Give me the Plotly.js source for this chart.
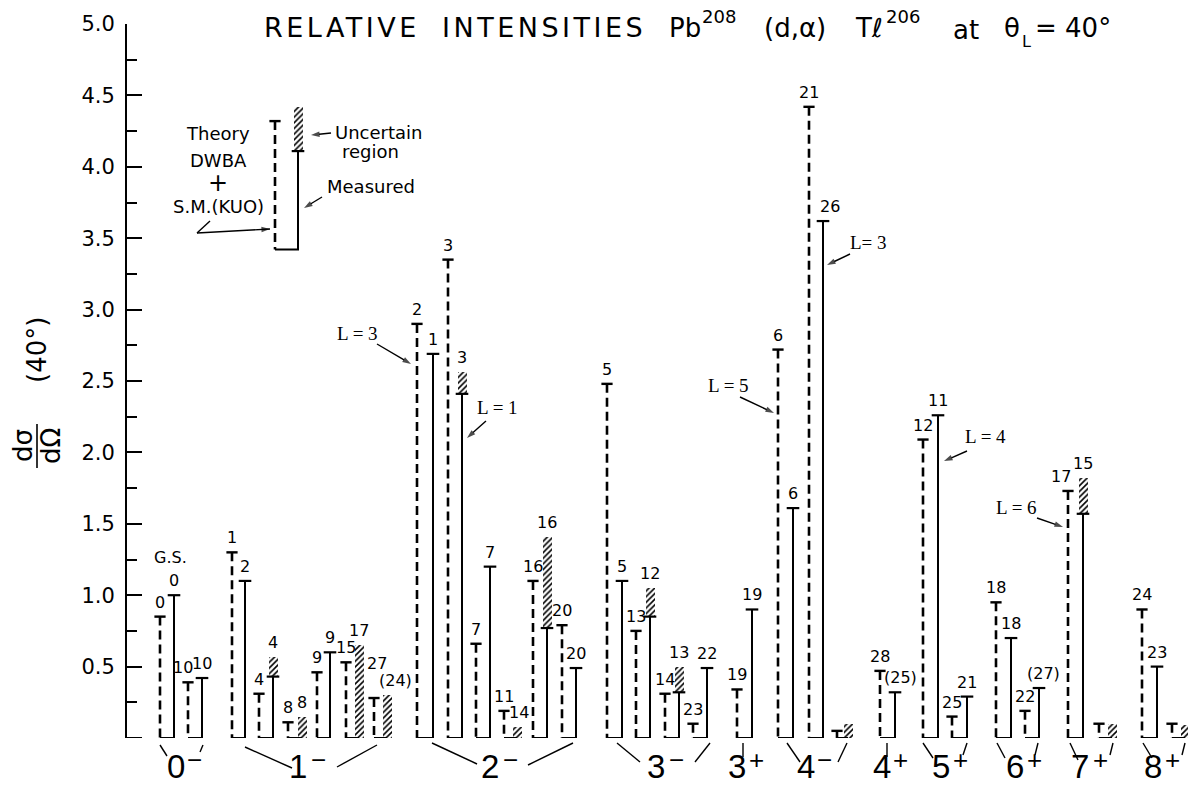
<!DOCTYPE html>
<html><head><meta charset="utf-8">
<script src="https://cdn.plot.ly/plotly-3.0.1.min.js"></script>
<style>html,body{margin:0;padding:0;background:#fff}#chart{width:1188px;height:786px}</style>
</head><body><div id="chart"></div>
<script>
// ---------------- data ----------------
const groupSpins = ['0','1','2','3','3','4','4','5','6','7','8'];
const groupParity = ['−','−','−','−','+','−','+','+','+','+','+'];
const pairGroup = [0,0, 1,1,1,1,1,1, 2,2,2,2,2,2, 3,3,3,3, 4, 5,5,5, 6, 7,7, 8,8, 9,9, 10,10];
// theory: DWBA + S.M.(Kuo)
const theoryValues = [0.85,0.39, 1.30,0.31,0.11,0.46,0.53,0.28, 2.90,3.35,0.66,0.19,1.10,0.79, 2.48,0.75,0.31,0.10, 0.34, 2.72,4.42,0.05, 0.47, 2.09,0.15, 0.95,0.19, 1.73,0.10, 0.90,0.10];
// measured (solid part)
const measuredValues = [1.00,0.42, 1.10,0.43,0.00,0.60,0.00,0.00, 2.69,2.41,1.20,0.00,0.77,0.49, 1.10,0.85,0.32,0.49, 0.90, 1.61,3.62,0.00, 0.32, 2.26,0.29, 0.70,0.35, 1.57,0.00, 0.50,0.00];
// top of uncertain (hatched) region, null = none
const uncertainTop = [null,null, null,0.57,0.15,null,0.65,0.30, null,2.56,null,0.08,1.41,null, null,1.05,0.50,null, null, null,null,0.10, null, null,null, null,null, 1.82,0.10, null,0.09];
const theoryLabels = ['0','10', '1','4','8','9','15','27', '2','3','7','11','16','20', '5','13','14','23', '19', '6','21','', '28', '12','25', '18','22', '17','', '24',''];
const measuredLabels = ['0','10', '2','4','8','9','17','(24)', '1','3','7','14','16','20', '5','12','13','22', '19', '6','26','', '(25)', '11','21', '18','(27)', '15','', '23',''];
const yTickValues = [0.5,1.0,1.5,2.0,2.5,3.0,3.5,4.0,4.5,5.0];
const yTickText = ['0.5','1.0','1.5','2.0','2.5','3.0','3.5','4.0','4.5','5.0'];
const yMinorTicks = [0.25,0.75,1.25,1.75,2.25,2.75,3.25,3.75,4.25,4.75];
// legend sample values
const legendBase = 3.42, legendTheory = 4.32, legendMeasured = 4.11, legendUncertain = 4.42;

// ---------------- layout positions (pixel-like x units) ----------------
const xTheoryPos   = [160,188, 232,259,288,317,346,374, 417,448,476,504,533,562, 607,636,665,693, 737, 778,809,837, 880, 923,952, 996,1025, 1068,1099, 1142,1172];
const xMeasuredPos = [174,202, 245,273,302,330,359,387, 433,462,490,517,547,576, 622,650,679,707, 752, 793,823,848, 895, 938,967, 1011,1039, 1083,1112, 1157,1185];
const theoryLabelDx = {1:-5, 7:3, 27:-7};
const theoryLabelDy = {7:20};
const measuredLabelDx = {7:8, 20:7, 22:5, 26:4, 11:2};
const groupDigitX = [176,298,490,656,737,806,882,941,1015,1080,1153];
const groupSignX  = [194,318,510,676,756,824,900,960,1034,1100,1172];
const groupBrackets = [
  [[160,745,167,756],[203,745,200,752]],
  [[245,747,292,768],[377,745,337,767]],
  [[432,743,477,764],[573,743,528,765]],
  [[617,743,640,762],[710,743,695,762]],
  [[743,743,743,757]],
  [[787,743,800,762],[847,743,838,762]],
  [[887,743,887,757]],
  [[923,743,933,758],[967,743,963,755]],
  [[997,743,1005,758],[1038,743,1035,755]],
  [[1070,743,1078,760],[1113,743,1110,755]],
  [[1143,743,1152,758],[1185,743,1182,755]]
];

// ---------------- helpers ----------------
const L = 127, R = 1188, T0 = 24, B0 = 738;
const PX = px => (px - L) / (R - L);
const PY = py => (B0 - py) / (B0 - T0);
const PV = py => 5 * (B0 - py) / (B0 - T0);   // pixel row -> y value
const FONT = 'DejaVu Sans, Liberation Sans, sans-serif';
const NARROW = 'Liberation Sans Narrow, Liberation Sans, sans-serif';
const blk = '#000';

function pairTraces(xT, xM, th, me, unc, base) {
  const dX=[], dY=[], sX=[], sY=[], cTx=[], cTy=[], cMx=[], cMy=[], hX=[], hB=[], hY=[];
  for (let i=0;i<th.length;i++){
    const b = base;
    dX.push(xT[i], xT[i], null); dY.push(th[i], b, null);
    sX.push(xT[i], xM[i], xM[i], null); sY.push(b, b, me[i], null);
    cTx.push(xT[i]); cTy.push(th[i]);
    if (me[i] > b + 0.001) { cMx.push(xM[i]); cMy.push(me[i]); }
    if (unc[i] !== null && unc[i] !== undefined) { hX.push(xM[i]); hB.push(Math.max(me[i], b)); hY.push(unc[i] - Math.max(me[i], b)); }
  }
  return [
    {type:'bar', x:hX, y:hY, base:hB, width:9, hoverinfo:'skip',
     marker:{color:'#fff', line:{width:0}, pattern:{shape:'/', fgcolor:blk, bgcolor:'#fff', size:4, solidity:0.4, fillmode:'replace'}}},
    {type:'scatter', mode:'lines', x:dX, y:dY, line:{color:blk, width:2.6, dash:'9px,5px'}, hoverinfo:'skip'},
    {type:'scatter', mode:'lines', x:sX, y:sY, line:{color:blk, width:2}, hoverinfo:'skip'},
    {type:'scatter', mode:'markers', x:cTx, y:cTy, marker:{symbol:'line-ew', size:8, line:{width:2.4, color:blk}}, hoverinfo:'skip', cliponaxis:false},
    {type:'scatter', mode:'markers', x:cMx, y:cMy, marker:{symbol:'line-ew', size:9, line:{width:2.2, color:blk}}, hoverinfo:'skip', cliponaxis:false}
  ];
}

const traces = pairTraces(xTheoryPos, xMeasuredPos, theoryValues, measuredValues, uncertainTop, 0)
  .concat(pairTraces([275],[298],[legendTheory],[legendMeasured],[legendUncertain], legendBase));

// pointer arrows (pixel polylines, last point = arrow tip)
const arrowPaths = [
  [[210,221],[197,233],[270,229]],
  [[331,133],[311,135]],
  [[322,197],[304,208]],
  [[377,344],[411,364]],
  [[486,421],[467,438]],
  [[740,397],[774,413]],
  [[850,254],[827,265]],
  [[967,451],[944,461]],
  [[1037,518],[1063,527]]
];
const aX=[], aY=[], aS=[];
arrowPaths.forEach(p=>{ p.forEach((q,j)=>{ aX.push(q[0]); aY.push(PV(q[1])); aS.push(j===p.length-1?9:0); }); aX.push(null); aY.push(null); aS.push(0); });
traces.push({type:'scatter', mode:'lines+markers', x:aX, y:aY, line:{color:blk, width:1.4},
  marker:{symbol:'arrow', angleref:'previous', size:aS, color:blk, line:{width:0}}, hoverinfo:'skip', cliponaxis:false});

const annotations = [];
const shapes = [];
function txt(text, px, py, size, opts) {
  annotations.push(Object.assign({text, x:PX(px), y:PY(py), xref:'paper', yref:'paper', showarrow:false,
    xanchor:'center', yanchor:'middle', font:{family:FONT, size, color:blk}}, opts||{}));
}
function seg(x0,y0,x1,y1,w) {
  shapes.push({type:'line', xref:'paper', yref:'paper', x0:PX(x0), y0:PY(y0), x1:PX(x1), y1:PY(y1), line:{color:blk, width:w||1.4}});
}
// long tick at zero on the axis
shapes.push({type:'line', xref:'paper', yref:'y', x0:0, x1:PX(L+15), y0:0, y1:0, line:{color:blk, width:2}});

// value labels above the tops
for (let i=0;i<theoryValues.length;i++){
  if (theoryLabels[i]) annotations.push({text:theoryLabels[i], x:xTheoryPos[i], y:theoryValues[i], xref:'x', yref:'y', showarrow:false,
    xanchor:'center', yanchor:'bottom', yshift:3+(theoryLabelDy[i]||0), xshift:theoryLabelDx[i]||0, font:{family:FONT, size:16, color:blk}});
  const mtop = (uncertainTop[i]!==null) ? uncertainTop[i] : measuredValues[i];
  if (measuredLabels[i]) annotations.push({text:measuredLabels[i], x:xMeasuredPos[i], y:mtop, xref:'x', yref:'y', showarrow:false,
    xanchor:'center', yanchor:'bottom', yshift:3, xshift:measuredLabelDx[i]||0, font:{family:FONT, size:16, color:blk}});
}

// group labels (spin digit + parity sign) + brackets
groupSpins.forEach((g,k)=>{
  txt(g, groupDigitX[k], 766, 32, {font:{family:NARROW, size:33, color:blk}});
  txt(groupParity[k], groupSignX[k], 760, 24, {font:{family:NARROW, size:26, color:blk}});
  groupBrackets[k].forEach(s=>seg(s[0],s[1],s[2],s[3],1.4));
});
txt('G.S.', 170, 557, 16);

// legend inset text
txt('Theory', 218, 133, 18);
txt('DWBA', 218, 160, 18);
txt('+', 218, 183, 24);
txt('S.M.(KUO)', 218, 206, 18);
txt('Uncertain', 333, 132, 18, {xanchor:'left'});
txt('region', 340, 151, 18, {xanchor:'left'});
txt('Measured', 325, 187, 18, {xanchor:'left'});

// L = n annotations
const SERIF = 'Liberation Serif, DejaVu Serif, serif';
[['L = 3',357,333],['L = 1',497,407],['L = 5',728,385],['L= 3',868,242],['L = 4',985,437],['L = 6',1016,507]]
  .forEach(a=>txt(a[0],a[1],a[2],19,{font:{family:SERIF,size:19,color:blk}}));

// title pieces
const tfont = {family:FONT, size:26, color:blk};
const sfont = {family:FONT, size:18, color:blk};
const spacedTitle = [];
spacedTitle.push(annotations.length); txt('RELATIVE', 262, 28, 27, {xanchor:'left', align:'left', font:{family:FONT, size:27, color:blk}});
spacedTitle.push(annotations.length); txt('INTENSITIES', 440, 28, 27, {xanchor:'left', align:'left', font:{family:FONT, size:27, color:blk}});
txt('Pb', 667, 28, 26, {xanchor:'left', font:tfont});
txt('208', 700, 16, 18, {xanchor:'left', font:sfont});
txt('(d,α)', 762, 28, 26, {xanchor:'left', font:tfont});
txt('Tℓ', 853, 28, 26, {xanchor:'left', font:tfont});
txt('206', 884, 16, 18, {xanchor:'left', font:sfont});
txt('at', 951, 30, 26, {xanchor:'left', font:tfont});
txt('θ', 1002, 28, 26, {xanchor:'left', font:{family:FONT, size:26, color:blk}});
txt('L', 1020, 41, 16, {xanchor:'left', font:{family:FONT, size:16, color:blk}});
txt('= 40°', 1033, 28, 26, {xanchor:'left', font:tfont});

// y-axis title: dσ/dΩ (40°)
txt('dσ', 23, 446, 26, {textangle:-90});
txt('dΩ', 51, 446, 26, {textangle:-90});
seg(37,424,37,468,1.6);
txt('(40°)', 37, 350, 26, {textangle:-90});

const layout = {
  width:1188, height:786,
  margin:{l:L, r:0, t:T0, b:786-B0, pad:0},
  paper_bgcolor:'#fff', plot_bgcolor:'#fff',
  showlegend:false, barmode:'overlay', bargap:0,
  xaxis:{range:[L,R], visible:false, fixedrange:true},
  yaxis:{range:[0,5], showgrid:false, zeroline:false, showline:true, linewidth:2, linecolor:blk,
    ticks:'inside', ticklen:15, tickwidth:2, tickcolor:blk, tickmode:'array', tickvals:yTickValues, ticktext:yTickText,
    tickfont:{family:FONT, size:21, color:blk}, ticklabelstandoff:6,
    minor:{ticks:'inside', ticklen:10, tickwidth:2, tickcolor:blk, tickvals:yMinorTicks},
    fixedrange:true},
  annotations, shapes
};
Plotly.newPlot('chart', traces, layout, {staticPlot:true, displayModeBar:false}).then(gd=>{
  // widen the lettering of the two title words, as in the hand-lettered original
  spacedTitle.forEach(idx=>{
    const t = gd.querySelector('.annotation[data-index="'+idx+'"] text');
    if (t) t.style.letterSpacing = '3.5px';
  });
});
</script>
</body></html>
